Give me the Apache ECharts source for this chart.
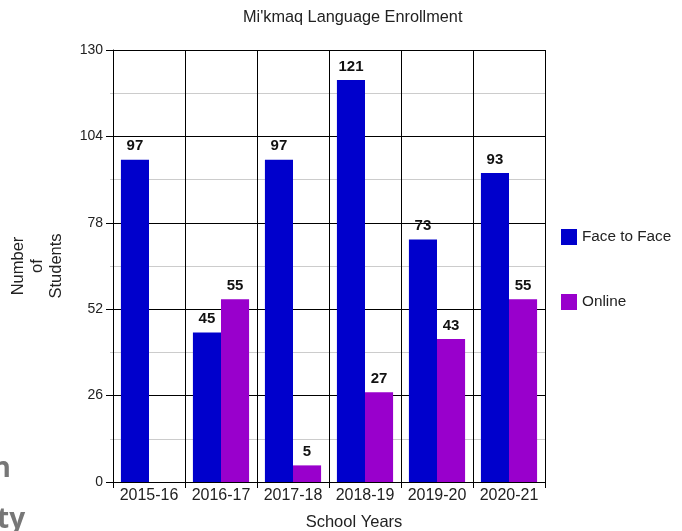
<!DOCTYPE html>
<html><head><meta charset="utf-8">
<script src="https://cdn.jsdelivr.net/npm/echarts@6/dist/echarts.min.js"></script>
<style>html,body{margin:0;padding:0;background:#fff}#c{width:682px;height:531px}</style>
</head><body><div id="c"></div>
<script>
const categories = ['2015-16','2016-17','2017-18','2018-19','2019-20','2020-21'];
const faceToFace = [97, 45, 97, 121, 73, 93];
const online = [null, 55, 5, 27, 43, 55];
const yTicks = {min:0, max:130, interval:26};

const chart = echarts.init(document.getElementById('c'));
const font = 'Liberation Sans, Arial, sans-serif';
const lbl = {show:true, position:'top', fontWeight:'bold', fontSize:15, color:'#111', fontFamily:font, distance:6};
chart.setOption({
  animation:false,
  title:{text:"Mi'kmaq Language Enrollment", left:243, top:10, padding:0, textStyle:{fontSize:16.3, fontWeight:'normal', color:'#222', fontFamily:font}},
  grid:{left:113, right:137, top:50, bottom:49, containLabel:false, outerBoundsMode:'none'},
  legend:{orient:'vertical', left:561, top:229, padding:0, itemGap:49, itemWidth:16, itemHeight:16, icon:'rect',
    textStyle:{fontSize:15.3, color:'#222', fontFamily:font}, data:['Face to Face','Online']},
  xAxis:{type:'category', data:categories, name:'School Years', nameLocation:'middle', nameGap:32,
    nameTextStyle:{fontSize:16.5, color:'#222', fontFamily:font, padding:[0,0,0,50]},
    axisLine:{lineStyle:{color:'#000'}}, axisTick:{show:true, length:6, lineStyle:{color:'#000'}},
    axisLabel:{interval:0, fontSize:16, color:'#222', fontFamily:font, margin:6},
    splitLine:{show:true, interval:0, lineStyle:{color:'#000', width:1}}},
  yAxis:{type:'value', min:yTicks.min, max:yTicks.max, interval:yTicks.interval,
    name:'Number\nof\nStudents', nameLocation:'middle', nameGap:47, nameRotate:90,
    nameTextStyle:{fontSize:16.5, color:'#222', fontFamily:font, lineHeight:19},
    axisLine:{show:true, lineStyle:{color:'#000'}}, axisTick:{show:true, length:7, lineStyle:{color:'#000'}},
    axisLabel:{fontSize:14, color:'#222', fontFamily:font, margin:10},
    splitLine:{show:true, lineStyle:{color:'#000', width:1}},
    minorTick:{show:true, splitNumber:2, length:3, lineStyle:{color:'#ccc'}},
    minorSplitLine:{show:true, lineStyle:{color:'#ccc', width:1}}},
  series:[
    {name:'Face to Face', type:'bar', data:faceToFace, barGap:'0%', barCategoryGap:'22%', itemStyle:{color:'#0000cc'}, label:lbl},
    {name:'Online', type:'bar', data:online, itemStyle:{color:'#9900cc'}, label:lbl}
  ],
  graphic:[
    {type:'text', right: 682-11, top:455, style:{text:'n', fill:'#777', font:'bold 28px "Open Sans", sans-serif', textAlign:'right'}},
    {type:'text', left:-3, top:506, style:{text:'ty', fill:'#777', font:'bold 28px "Open Sans", sans-serif'}}
  ]
});
</script></body></html>
